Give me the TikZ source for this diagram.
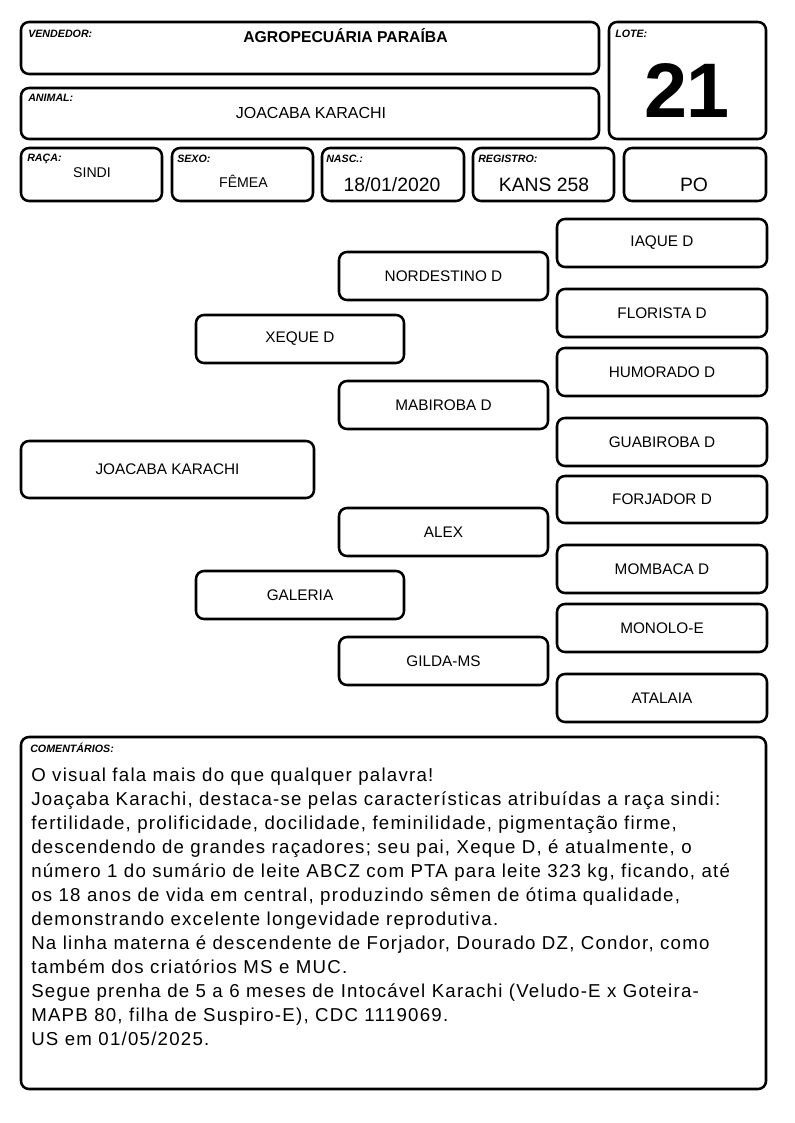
\documentclass[tikz,border=0pt]{standalone}
\usepackage{fontspec}
\setmainfont{Liberation Sans}
\newfontfamily\comfont[LetterSpace=6.6]{Liberation Sans}
\usetikzlibrary{fit}
\tikzset{
  box/.style={draw=black, line width=1.9pt, rounded corners=6pt, inner sep=0pt},
  lbl/.style={anchor=base west, inner sep=0pt, font=\fontsize{8pt}{9pt}\selectfont\bfseries\itshape},
  val/.style={anchor=base, inner sep=0pt, font=\fontsize{10.6pt}{12pt}\selectfont},
  bigval/.style={anchor=base, inner sep=0pt, font=\fontsize{14.5pt}{17pt}\selectfont},
  ped/.style={inner sep=0pt, font=\fontsize{11.5pt}{13pt}\selectfont}
}
\begin{document}
\begin{tikzpicture}[x=0.75pt, y=-0.75pt]
\useasboundingbox (0,0) rectangle (794,1123);
% header boxes
\node[box, fit={(21,22) (599,74)}] (vend) {};
\node[box, fit={(609,22) (766,139)}] (lote) {};
\node[box, fit={(21,88) (599,139)}] (anim) {};
\node[box, fit={(21,148) (162,201)}] (raca) {};
\node[box, fit={(172,148) (313,201)}] (sexo) {};
\node[box, fit={(322,148) (464,201)}] (nasc) {};
\node[box, fit={(473,148) (614,201)}] (reg) {};
\node[box, fit={(624,148) (766,201)}] (cat) {};
% header labels
\node[lbl] (lvend) at (28,38) {VENDEDOR:};
\node[lbl] (llote) at (615,38) {LOTE:};
\node[lbl] (lanim) at (28,102) {ANIMAL:};
\node[lbl] (lraca) at (27,162) {RAÇA:};
\node[lbl] (lsexo) at (177,163) {SEXO:};
\node[lbl] (lnasc) at (326,163) {NASC.:};
\node[lbl] (lreg) at (478,163) {REGISTRO:};
% header values
\node[anchor=base, inner sep=0pt, font=\fontsize{11.8pt}{13pt}\selectfont\bfseries] (tvend) at (345.5,43) {AGROPECUÁRIA PARAÍBA};
\node[anchor=base, inner sep=0pt, font=\fontsize{12pt}{13pt}\selectfont] (tanim) at (311,119) {JOACABA KARACHI};
\node[anchor=base, inner sep=0pt, font=\fontsize{58pt}{60pt}\selectfont\bfseries] (tlote) at (687,118) {21};
\node[val] (traca) at (92,178) {SINDI};
\node[val] (tsexo) at (243.5,188) {FÊMEA};
\node[bigval] (tnasc) at (392,192) {18/01/2020};
\node[bigval] (treg) at (544,192) {KANS 258};
\node[bigval] (tcat) at (694,192) {PO};
% pedigree
\node[box, fit={(557,219) (767,267)}] (b1) {};
\node[ped] at (b1.center) {IAQUE D};
\node[box, fit={(339,252) (548,300)}] (b2) {};
\node[ped] at (b2.center) {NORDESTINO D};
\node[box, fit={(557,289) (767,337)}] (b3) {};
\node[ped] at (b3.center) {FLORISTA D};
\node[box, fit={(196,315) (404,363)}] (b4) {};
\node[ped] at (b4.center) {XEQUE D};
\node[box, fit={(557,348) (767,396)}] (b5) {};
\node[ped] at (b5.center) {HUMORADO D};
\node[box, fit={(339,381) (548,429)}] (b6) {};
\node[ped] at (b6.center) {MABIROBA D};
\node[box, fit={(557,418) (767,466)}] (b7) {};
\node[ped] at (b7.center) {GUABIROBA D};
\node[box, fit={(21,441) (314,498)}] (b8) {};
\node[ped] at (b8.center) {JOACABA KARACHI};
\node[box, fit={(557,476) (767,523)}] (b9) {};
\node[ped] at (b9.center) {FORJADOR D};
\node[box, fit={(339,508) (548,556)}] (b10) {};
\node[ped] at (b10.center) {ALEX};
\node[box, fit={(557,545) (767,593)}] (b11) {};
\node[ped] at (b11.center) {MOMBACA D};
\node[box, fit={(196,571) (404,619)}] (b12) {};
\node[ped] at (b12.center) {GALERIA};
\node[box, fit={(557,604) (767,652)}] (b13) {};
\node[ped] at (b13.center) {MONOLO-E};
\node[box, fit={(339,637) (548,685)}] (b14) {};
\node[ped] at (b14.center) {GILDA-MS};
\node[box, fit={(557,674) (767,722)}] (b15) {};
\node[ped] at (b15.center) {ATALAIA};
% comments
\node[box, fit={(21,737) (766,1089)}] (com) {};
\node[lbl] (lcom) at (30,752) {COMENTÁRIOS:};
\node[anchor=north west, inner sep=0pt, align=left, font=\fontsize{14pt}{18pt}\comfont] (tcom) at (31,767.4) {O visual fala mais do que qualquer palavra!\\
Joaçaba Karachi, destaca-se pelas características atribuídas a raça sindi:\\
fertilidade, prolificidade, docilidade, feminilidade, pigmentação firme,\\
descendendo de grandes raçadores; seu pai, Xeque D, é atualmente, o\\
número 1 do sumário de leite ABCZ com PTA para leite 323 kg, ficando, até\\
os 18 anos de vida em central, produzindo sêmen de ótima qualidade,\\
demonstrando excelente longevidade reprodutiva.\\
Na linha materna é descendente de Forjador, Dourado DZ, Condor, como\\
também dos criatórios MS e MUC.\\
Segue prenha de 5 a 6 meses de Intocável Karachi (Veludo-E x Goteira-\\
MAPB 80, filha de Suspiro-E), CDC 1119069.\\
US em 01/05/2025.};
\end{tikzpicture}
\end{document}
